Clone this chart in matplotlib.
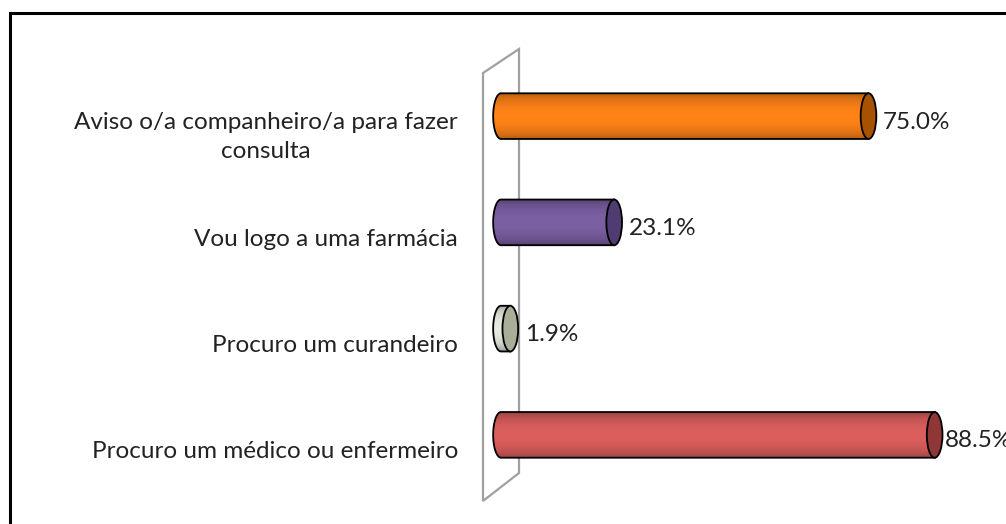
import numpy as np
import matplotlib.pyplot as plt
from matplotlib.colors import to_rgb
from matplotlib.patches import Polygon, Ellipse, Rectangle
from matplotlib.transforms import ScaledTranslation

categories = ['Procuro um médico ou enfermeiro',
              'Procuro um curandeiro',
              'Vou logo a uma farmácia',
              'Aviso o/a companheiro/a para fazer\nconsulta']
values = [88.5, 1.9, 23.1, 75.0]
labels = ['88.5%', '1.9%', '23.1%', '75.0%']
body_colors = ['#dc5f5e', '#e9ebe1', '#7c60a4', '#ff8317']
cap_colors = ['#8f3636', '#a9ae99', '#4f3c70', '#a65200']

plt.rcParams['font.family'] = ['Lato', 'DejaVu Sans']

W, H = 1006, 524
px = 4.9          # pixels per percent
x0 = 501          # pixel of 0 %
fig = plt.figure(figsize=(W / 100, H / 100), dpi=100)
ax = fig.add_axes([(x0 - 3 * px) / W, 36 / H, 103 * px / W, 425 / H])

# outer frame (only left and top visible in the crop)
fig.patches.append(Rectangle((10 / W, -0.1), 1.1, (H - 13) / H + 0.1,
                             transform=fig.transFigure, fill=False,
                             edgecolor='black', lw=2.2))

# slanted back wall of the 3d chart (figure pixels), behind the bars
wall_px = [(483, 501), (483, 73), (519, 49), (519, 473)]
fig.patches.append(Polygon([(x / W, 1 - y / H) for x, y in wall_px], closed=True,
                           transform=fig.transFigure, fill=False,
                           edgecolor='#a0a0a0', lw=1.6, zorder=-1))

h = 0.43   # bar thickness in category units
rx = 1.6   # cap half width in percent units

t = np.linspace(0, 1, 200)
shade = 0.62 + 0.38 * np.sin(np.pi * t) ** 0.5

lab_off = ScaledTranslation(0, -6 / 100, fig.dpi_scale_trans)
for i, (v, bc, cc) in enumerate(zip(values, body_colors, cap_colors)):
    rgb = np.array(to_rgb(bc))
    img = np.clip(shade[:, None, None] * rgb[None, None, :], 0, 1)
    th = np.linspace(0, np.pi, 60)
    pts = [(-rx * np.sin(a), i + h / 2 * np.cos(a)) for a in th]
    pts += [(v, i - h / 2), (v, i + h / 2)]
    body = Polygon(pts, closed=True, facecolor='none', edgecolor='black',
                   lw=1.3, zorder=3)
    ax.add_patch(body)
    im = ax.imshow(img, extent=(-rx, v, i - h / 2, i + h / 2), origin='lower',
                   aspect='auto', zorder=2)
    im.set_clip_path(body)
    ax.add_patch(Ellipse((v, i), 2 * rx, h, facecolor=cc, edgecolor='black',
                         lw=1.3, zorder=4, clip_on=False))
    gap = 0.4 if v > 85 else 1.4
    ax.text(v + rx + gap, i, labels[i], ha='left', va='center', fontsize=17.5,
            color='#222222', zorder=5, transform=ax.transData + lab_off)

ax.set_xlim(-3, 100)
ax.set_ylim(-0.5, 3.5)
ax.set_yticks(range(len(categories)))
ax.set_yticklabels(categories, fontsize=17.5, color='#222222')
ax.tick_params(axis='y', length=0, pad=31 - 3 * px * 0.72)
ax.set_xticks([])
off = ScaledTranslation(0, -15 / 100, fig.dpi_scale_trans)
for lab in ax.get_yticklabels():
    lab.set_multialignment('center')
    lab.set_linespacing(1.45)
    lab.set_transform(lab.get_transform() + off)
for s in ax.spines.values():
    s.set_visible(False)
ax.patch.set_visible(False)

fig.savefig('out.png', dpi=100)
